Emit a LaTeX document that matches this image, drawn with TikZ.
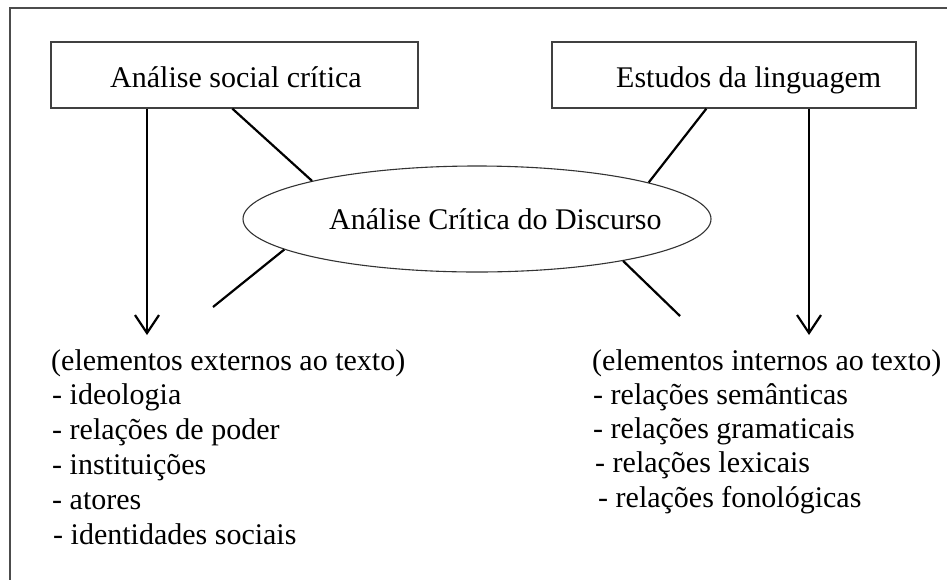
\documentclass[tikz,border=0pt]{standalone}
\usepackage{fontspec}
\setmainfont{Liberation Serif}
\usetikzlibrary{arrows.meta,shapes.geometric}
\begin{document}
\begin{tikzpicture}[x=1pt,y=-1pt,
  txt/.style={inner sep=0pt,anchor=base west,font=\fontsize{30}{34.8}\selectfont},
  boxn/.style={draw=black!75,line width=1.3pt,inner sep=0pt,rectangle},
  elln/.style={draw=black!80,line width=1.1pt,ellipse,inner sep=0pt},
  conn/.style={line width=2.2pt,black},
  arr/.style={conn,-{Straight Barb[length=18pt,width=24pt,line width=2.2pt]}}]
\useasboundingbox (0,0) rectangle (947,579);
% outer frame (runs off the right and bottom)
\draw[black!70,line width=1.3pt] (10,600) -- (10,8) -- (960,8);
% boxes
\node[boxn,minimum width=367pt,minimum height=66pt] (box1) at (234.5,75) {};
\node[boxn,minimum width=364pt,minimum height=66pt] (box2) at (734,75) {};
\node[txt] (t1) at (110,87) {Análise social crítica};
\node[txt] (t2) at (616,87) {Estudos da linguagem};
% ellipse
\node[elln,minimum width=468pt,minimum height=106pt] (ell) at (477,219) {};
\node[txt] (te) at (329,229) {Análise Crítica do Discurso};
% connectors
\coordinate (ll) at (213,307);
\coordinate (lr) at (680,316);
\coordinate (a1) at (147,335);
\coordinate (a2) at (809,335);
\draw[conn] ([xshift=182pt]box1.south west) -- (ell.167.8);
\draw[conn] ([xshift=155pt]box2.south west) -- (ell.12.8);
\draw[conn] (ell.189.1) -- (ll);
\draw[conn] (ell.-16.6) -- (lr);
\draw[arr] (a1 |- box1.south) -- (a1);
\draw[arr] (a2 |- box2.south) -- (a2);
% left list
\node[txt] (le0) at (51,370) {(elementos externos ao texto)};
\node[txt] (le1) at (52,404.8) {- ideologia};
\node[txt] (le2) at (52,439.6) {- relações de poder};
\node[txt] (le3) at (52,474.4) {- instituições};
\node[txt] (le4) at (52,509.2) {- atores};
\node[txt] (le5) at (53,544) {- identidades sociais};
% right list
\node[txt] (ri0) at (592,370) {(elementos internos ao texto)};
\node[txt] (ri1) at (593,404.3) {- relações semânticas};
\node[txt] (ri2) at (593,438.6) {- relações gramaticais};
\node[txt] (ri3) at (595,472.9) {- relações lexicais};
\node[txt] (ri4) at (598,507.2) {- relações fonológicas};
\end{tikzpicture}
\end{document}
